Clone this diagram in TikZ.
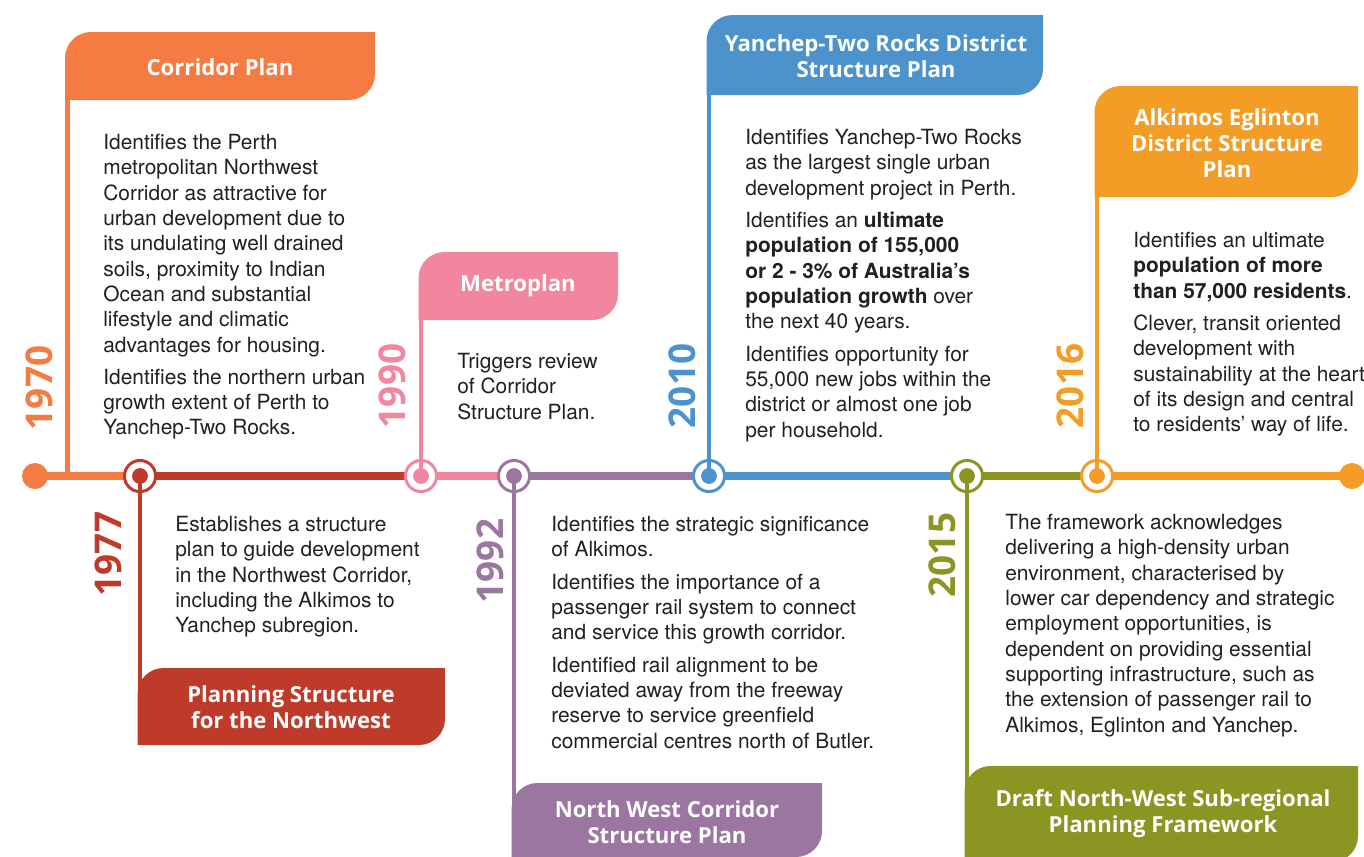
\documentclass[tikz,border=0pt]{standalone}
\usepackage{fontspec}
\setmainfont{TeX Gyre Heros}
\newfontfamily\headfont{Open Sans}
\definecolor{col70}{HTML}{F47C42}
\definecolor{col77}{HTML}{BE3A2A}
\definecolor{col90}{HTML}{F2869E}
\definecolor{col92}{HTML}{9B76A0}
\definecolor{col10}{HTML}{4C93CE}
\definecolor{col15}{HTML}{8A9522}
\definecolor{col16}{HTML}{F39C26}
\definecolor{ink}{HTML}{231F20}
\tikzset{%
    tline/.style={line width=4.5pt},
    stem/.style={line width=2.8pt},
    ring/.style={circle,draw,line width=1.7pt,fill=white,minimum size=17.7pt,inner sep=0pt},
    dot/.style={circle,fill,minimum size=9pt,inner sep=0pt},
    bigdot/.style={circle,fill,minimum size=14.8pt,inner sep=0pt},
    year/.style={rotate=90,inner sep=0pt,font=\headfont\bfseries\fontsize{21}{21}\selectfont},
    head/.style={text=white,align=center,inner sep=0pt,font=\headfont\bfseries\fontsize{12.6}{14.8}\selectfont},
    body/.style={anchor=north west,align=left,inner sep=0pt,text=ink,font=\fontsize{11.9}{14.4}\selectfont},
    tabr/.style={radius=14.8pt}
}
\begin{document}
\begin{tikzpicture}[x=0.02cm,y=-0.02cm]
            \useasboundingbox (0,0) rectangle (1364,856);
            \clip (0,0) rectangle (1364,856);
            % timeline points
            \coordinate (m1970) at (35,476);
            \coordinate (s1970) at (67.5,476);
            \coordinate (m1977) at (140,476);
            \coordinate (m1990) at (421,476);
            \coordinate (m1992) at (514,476);
            \coordinate (m2010) at (709,476);
            \coordinate (m2015) at (967,476);
            \coordinate (m2016) at (1097,476);
            \coordinate (mend) at (1352,476);
            % stem ends inside the tabs
            \coordinate (k1970) at (67.5,98);
            \coordinate (k1977) at (140,694);
            \coordinate (k1990) at (421,318);
            \coordinate (k1992) at (514,809);
            \coordinate (k2010) at (709,93);
            \coordinate (k2015) at (967,792);
            \coordinate (k2016) at (1097,195);
            %%%%%
            \draw[tline,col70] (m1970) -- (m1977);
            \draw[tline,col77] (m1977) -- (m1990);
            \draw[tline,col90] (m1990) -- (m1992);
            \draw[tline,col92] (m1992) -- (m2010);
            \draw[tline,col10] (m2010) -- (m2015);
            \draw[tline,col15] (m2015) -- (m2016);
            \draw[tline,col16] (m2016) -- (mend);
            %%%%% tabs
            \fill[col70,tabr] (65,100) -- (65,58) arc[start angle=180,end angle=90] -- (375,32) -- (375,74) arc[start angle=0,end angle=-90] -- cycle;
            \fill[col77,tabr] (137.5,745) -- (137.5,694) arc[start angle=180,end angle=90] -- (445,668) -- (445,719) arc[start angle=0,end angle=-90] -- cycle;
            \fill[col90,tabr] (418.5,320) -- (418.5,278) arc[start angle=180,end angle=90] -- (618,252) -- (618,294) arc[start angle=0,end angle=-90] -- cycle;
            \fill[col92,tabr] (511.5,857) -- (511.5,809) arc[start angle=180,end angle=90] -- (822,783) -- (822,831) arc[start angle=0,end angle=-90] -- cycle;
            \fill[col10,tabr] (706.5,95) -- (706.5,41) arc[start angle=180,end angle=90] -- (1043,15) -- (1043,69) arc[start angle=0,end angle=-90] -- cycle;
            \fill[col15,tabr] (964.5,862) -- (964.5,792) arc[start angle=180,end angle=90] -- (1358,766) -- (1358,836) arc[start angle=0,end angle=-90] -- cycle;
            \fill[col16,tabr] (1094.5,197) -- (1094.5,112) arc[start angle=180,end angle=90] -- (1358,86) -- (1358,171) arc[start angle=0,end angle=-90] -- cycle;
            %%%%% rings
            \node[ring,draw=col77] (r1977) at (m1977) {};
            \node[ring,draw=col90] (r1990) at (m1990) {};
            \node[ring,draw=col92] (r1992) at (m1992) {};
            \node[ring,draw=col10] (r2010) at (m2010) {};
            \node[ring,draw=col15] (r2015) at (m2015) {};
            \node[ring,draw=col16] (r2016) at (m2016) {};
            %%%%% stems
            \draw[stem,col70] (s1970) -- (k1970);
            \draw[stem,col77] (m1977) -- (k1977);
            \draw[stem,col90] (m1990) -- (k1990);
            \draw[stem,col92] (m1992) -- (k1992);
            \draw[stem,col10] (m2010) -- (k2010);
            \draw[stem,col15] (m2015) -- (k2015);
            \draw[stem,col16] (m2016) -- (k2016);
            %%%%% dots
            \node[bigdot,col70] (o1970) at (m1970) {};
            \node[dot,col77] (o1977) at (m1977) {};
            \node[dot,col90] (o1990) at (m1990) {};
            \node[dot,col92] (o1992) at (m1992) {};
            \node[dot,col10] (o2010) at (m2010) {};
            \node[dot,col15] (o2015) at (m2015) {};
            \node[dot,col16] (o2016) at (m2016) {};
            \node[bigdot,col16] (oend) at (mend) {};
            %%%%% headings
            \node[head] (h1970) at (220,67) {Corridor Plan};
            \node[head] (h1977) at (291,707) {Planning Structure\\for the Northwest};
            \node[head] (h1990) at (518,286) {Metroplan};
            \node[head] (h1992) at (667,822) {North West Corridor\\Structure Plan};
            \node[head] (h2010) at (876,56) {Yanchep-Two Rocks District\\Structure Plan};
            \node[head] (h2015) at (1163,814) {Draft North-West Sub-regional\\Planning Framework};
            \node[head] (h2016) at (1227,143) {Alkimos Eglinton\\District Structure\\Plan};
            %%%%% years
            \node[year,text=col70] (y1970) at (39,388) {1970};
            \node[year,text=col77] (y1977) at (108,554) {1977};
            \node[year,text=col90] (y1990) at (392,386) {1990};
            \node[year,text=col92] (y1992) at (490,561) {1992};
            \node[year,text=col10] (y2010) at (682,386) {2010};
            \node[year,text=col15] (y2015) at (942,555) {2015};
            \node[year,text=col16] (y2016) at (1070,386) {2016};
            %%%%% texts
            \node[body] (d1970) at (103,134) {Identifies the Perth\\metropolitan Northwest\\Corridor as attractive for\\urban development due to\\its undulating well drained\\soils, proximity to Indian\\Ocean and substantial\\lifestyle and climatic\\advantages for housing.\\[4pt]
            Identifies the northern urban\\growth extent of Perth to\\Yanchep-Two Rocks.};
            \node[body] (d1977) at (175,516) {Establishes a structure\\plan to guide development\\in the Northwest Corridor,\\including the Alkimos to\\Yanchep subregion.};
            \node[body] (d1990) at (457,353) {Triggers review\\of Corridor\\Structure Plan.};
            \node[body] (d1992) at (551,516) {Identifies the strategic significance\\of Alkimos.\\[4pt]
            Identifies the importance of a\\passenger rail system to connect\\and service this growth corridor.\\[4pt]
            Identified rail alignment to be\\deviated away from the freeway\\reserve to service greenfield\\commercial centres north of Butler.};
            \node[body] (d2010) at (745,129) {Identifies Yanchep-Two Rocks\\as the largest single urban\\development project in Perth.\\[4pt]
            Identifies an \textbf{ultimate}\\\textbf{population of 155,000}\\\textbf{or 2 - 3\% of Australia’s}\\\textbf{population growth} over\\the next 40 years.\\[4pt]
            Identifies opportunity for\\55,000 new jobs within the\\district or almost one job\\per household.};
            \node[body] (d2015) at (1005,514) {The framework acknowledges\\delivering a high-density urban\\environment, characterised by\\lower car dependency and strategic\\employment opportunities, is\\dependent on providing essential\\supporting infrastructure, such as\\the extension of passenger rail to\\Alkimos, Eglinton and Yanchep.};
            \node[body] (d2016) at (1133,232) {Identifies an ultimate\\\textbf{population of more}\\\textbf{than 57,000 residents}.\\[4pt]
            Clever, transit oriented\\development with\\sustainability at the heart\\of its design and central\\to residents’ way of life.};
\end{tikzpicture}
\end{document}
